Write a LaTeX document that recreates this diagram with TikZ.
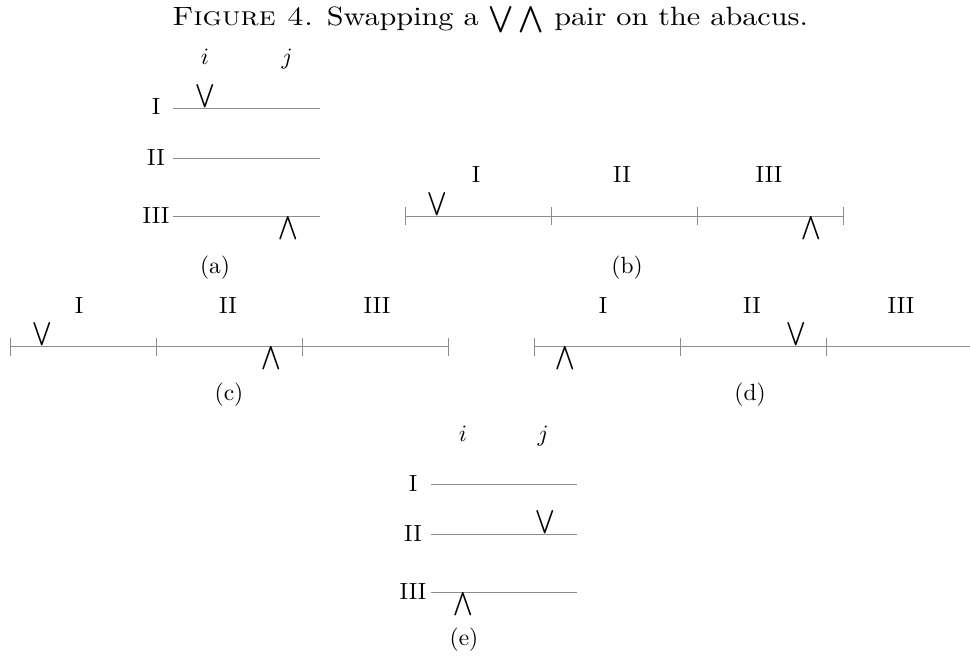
\documentclass[tikz,border=0pt]{standalone}
\begin{document}
\begin{tikzpicture}[x=0.427pt,y=-0.427pt,
  wire/.style={draw=black!45, line width=0.4pt},
  lbl/.style={inner sep=0pt, anchor=base},
  captxt/.style={inner sep=0pt, anchor=center},
  vbead/.style={inner sep=0pt, anchor=south},
  wbead/.style={inner sep=0pt, anchor=north}]
\useasboundingbox (0,0) rectangle (970,659);
\node[lbl] (title) at (490,26) {\scalebox{1.29}[1.13]{\textsc{Figure 4.} Swapping a $\bigvee\bigwedge$ pair on the abacus.}};

% (a)
\node[lbl] (ai) at (205,65) {$i$};
\node[lbl] (aj) at (287,65) {$j$};
\node[lbl] (aI) at (156,115) {I};
\node[lbl] (aII) at (156,166) {II};
\node[lbl] (aIII) at (156,224) {III};
\coordinate (a1s) at (173,108); \coordinate (a1e) at (320,108);
\coordinate (a2s) at (173,158); \coordinate (a2e) at (320,158);
\coordinate (a3s) at (173,216.5); \coordinate (a3e) at (320,216.5);
\draw[wire] (a1s) -- (a1e);
\draw[wire] (a2s) -- (a2e);
\draw[wire] (a3s) -- (a3e);
\node[vbead] (av) at (205,108) {$\bigvee$};
\node[wbead] (aw) at (288,216.5) {$\bigwedge$};
\node[captxt] (capa) at (215,268) {(a)};

% (b)
\node[lbl] (bI) at (476,183) {I};
\node[lbl] (bII) at (622,183) {II};
\node[lbl] (bIII) at (769,183) {III};
\coordinate (b0) at (405,216.5); \coordinate (b1) at (551,216.5);
\coordinate (b2) at (697,216.5); \coordinate (b3) at (843,216.5);
\draw[wire] (b0) -- (b3);
\foreach \p in {b0,b1,b2,b3} \draw[wire] ([yshift=-9*0.427pt]\p) -- ([yshift=9*0.427pt]\p);
\node[vbead] (bv) at (437.5,216.5) {$\bigvee$};
\node[wbead] (bw) at (811.5,216.5) {$\bigwedge$};
\node[captxt] (capb) at (627,268) {(b)};

% (c)
\node[lbl] (cI) at (79,313) {I};
\node[lbl] (cII) at (228,313) {II};
\node[lbl] (cIII) at (377,313) {III};
\coordinate (c0) at (10,346.5); \coordinate (c1) at (156,346.5);
\coordinate (c2) at (302,346.5); \coordinate (c3) at (448,346.5);
\draw[wire] (c0) -- (c3);
\foreach \p in {c0,c1,c2,c3} \draw[wire] ([yshift=-9*0.427pt]\p) -- ([yshift=9*0.427pt]\p);
\node[vbead] (cv) at (42.5,346.5) {$\bigvee$};
\node[wbead] (cw) at (271,346.5) {$\bigwedge$};
\node[captxt] (capc) at (229,395) {(c)};

% (d)
\node[lbl] (dI) at (603,313) {I};
\node[lbl] (dII) at (752,313) {II};
\node[lbl] (dIII) at (901,313) {III};
\coordinate (d0) at (534,346.5); \coordinate (d1) at (680,346.5);
\coordinate (d2) at (826,346.5); \coordinate (d3) at (970,346.5);
\draw[wire] (d0) -- (d3);
\foreach \p in {d0,d1,d2} \draw[wire] ([yshift=-9*0.427pt]\p) -- ([yshift=9*0.427pt]\p);
\node[wbead] (dw) at (565.5,346.5) {$\bigwedge$};
\node[vbead] (dv) at (796.5,346.5) {$\bigvee$};
\node[captxt] (capd) at (750,395) {(d)};

% (e)
\node[lbl] (ei) at (463,441) {$i$};
\node[lbl] (ej) at (543,441) {$j$};
\node[lbl] (eI) at (413,491) {I};
\node[lbl] (eII) at (413,541) {II};
\node[lbl] (eIII) at (413,599) {III};
\coordinate (e1s) at (431,484); \coordinate (e1e) at (577,484);
\coordinate (e2s) at (431,534); \coordinate (e2e) at (577,534);
\coordinate (e3s) at (431,592); \coordinate (e3e) at (577,592);
\draw[wire] (e1s) -- (e1e);
\draw[wire] (e2s) -- (e2e);
\draw[wire] (e3s) -- (e3e);
\node[vbead] (ev) at (545.5,534) {$\bigvee$};
\node[wbead] (ew) at (463,592) {$\bigwedge$};
\node[captxt] (cape) at (464,640) {(e)};
\end{tikzpicture}
\end{document}
